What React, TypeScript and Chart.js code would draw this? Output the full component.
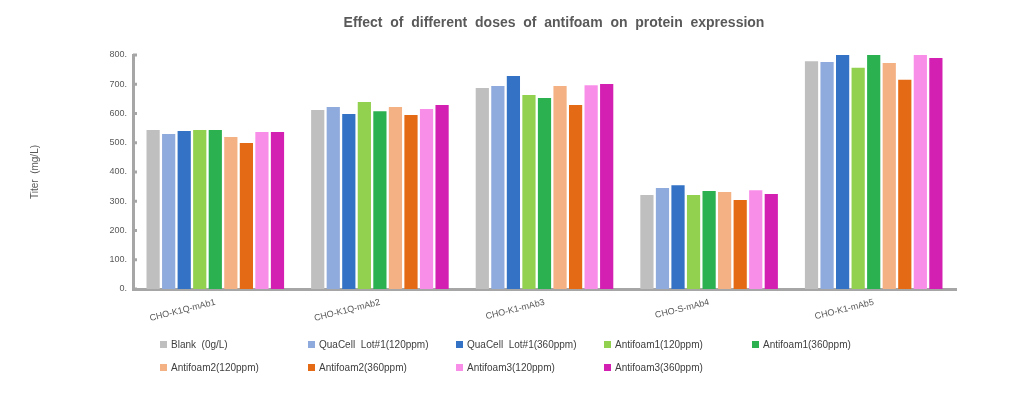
import React, { useEffect, useRef } from "react";
import { Chart, registerables } from "chart.js";

Chart.register(...registerables);

const categories = ["CHO-K1Q-mAb1", "CHO-K1Q-mAb2", "CHO-K1-mAb3", "CHO-S-mAb4", "CHO-K1-mAb5"];

const seriesNames = [
  "Blank  (0g/L)",
  "QuaCell  Lot#1(120ppm)",
  "QuaCell  Lot#1(360ppm)",
  "Antifoam1(120ppm)",
  "Antifoam1(360ppm)",
  "Antifoam2(120ppm)",
  "Antifoam2(360ppm)",
  "Antifoam3(120ppm)",
  "Antifoam3(360ppm)",
];

const seriesColors = [
  "#bfbfbf",
  "#8faadc",
  "#3372c4",
  "#92d050",
  "#2cb150",
  "#f4b183",
  "#e56a16",
  "#f98ee8",
  "#d31fb2",
];

const blank = [544, 612, 687, 321, 779];
const quacell120 = [530, 622, 694, 345, 776];
const quacell360 = [540, 598, 728, 355, 800];
const antifoam1_120 = [544, 639, 663, 321, 756];
const antifoam1_360 = [544, 608, 653, 335, 800];
const antifoam2_120 = [520, 622, 694, 332, 773];
const antifoam2_360 = [499, 595, 629, 304, 715];
const antifoam3_120 = [537, 615, 697, 338, 800];
const antifoam3_360 = [537, 629, 701, 325, 790];

const seriesValues = [
  blank,
  quacell120,
  quacell360,
  antifoam1_120,
  antifoam1_360,
  antifoam2_120,
  antifoam2_360,
  antifoam3_120,
  antifoam3_360,
];

const yTicks = [0, 100, 200, 300, 400, 500, 600, 700, 800];

const titleText = "Effect  of  different  doses  of  antifoam  on  protein  expression";
const yTitle = "Titer  (mg/L)";

const FONT = "'Liberation Sans', Arial, sans-serif";

const titlePlugin = {
  id: "customTitle",
  afterDraw(chart: any) {
    const ctx = chart.ctx;
    ctx.save();
    ctx.font = `bold 14px ${FONT}`;
    ctx.fillStyle = "#595959";
    ctx.textAlign = "center";
    ctx.textBaseline = "middle";
    ctx.fillText(titleText, 554, 23);
    ctx.restore();
  },
};

const tickMarkPlugin = {
  id: "yTickMarks",
  afterDraw(chart: any) {
    const ctx = chart.ctx;
    const y = chart.scales.y;
    ctx.save();
    ctx.fillStyle = "#a6a6a6";
    yTicks.forEach((v) => {
      const py = y.getPixelForValue(v);
      ctx.fillRect(chart.chartArea.left, py - 1.5, 4, 3);
    });
    ctx.restore();
  },
};

const legendCols = [160, 308, 456, 604, 752];
const legendRows = [344, 367];

export default function App() {
  const ref = useRef<HTMLCanvasElement | null>(null);

  useEffect(() => {
    if (!ref.current) return;
    const chart = new Chart(ref.current, {
      type: "bar",
      data: {
        labels: categories,
        datasets: seriesNames.map((name, i) => ({
          label: name,
          data: seriesValues[i],
          backgroundColor: seriesColors[i],
          borderWidth: 0,
          categoryPercentage: 0.85,
          barPercentage: 0.85,
        })),
      },
      options: {
        animation: false,
        responsive: true,
        maintainAspectRatio: false,
        layout: { padding: { top: 55, right: 62, bottom: 0, left: 0 } },
        plugins: {
          legend: { display: false },
          title: { display: false },
          tooltip: { enabled: false },
        },
        scales: {
          x: {
            grid: { display: false, drawTicks: false },
            border: { display: true, color: "#a6a6a6", width: 3 },
            ticks: {
              color: "#595959",
              font: { family: FONT, size: 9 },
              minRotation: 14,
              maxRotation: 14,
              padding: 8,
            },
            afterFit(scale: any) {
              scale.height = 105;
            },
          },
          y: {
            min: 0,
            max: 800,
            afterBuildTicks(scale: any) {
              scale.ticks = yTicks.map((v) => ({ value: v }));
            },
            grid: { display: false, drawTicks: false },
            border: { display: true, color: "#a6a6a6", width: 3 },
            ticks: {
              color: "#595959",
              font: { family: FONT, size: 9 },
              padding: 6,
              callback: (v: any) => `${v}.`,
            },
            title: {
              display: true,
              text: yTitle,
              color: "#595959",
              font: { family: FONT, size: 10 },
              padding: { top: 29, bottom: 0 },
            },
            afterFit(scale: any) {
              scale.width = 133;
            },
          },
        },
      },
      plugins: [titlePlugin, tickMarkPlugin],
    });
    return () => chart.destroy();
  }, []);

  return (
    <div style={{ position: "fixed", left: 0, top: 0, width: 1018, height: 394, background: "#fff" }}>
      <canvas ref={ref} />
      {seriesNames.map((name, i) => {
        const col = i % 5;
        const row = Math.floor(i / 5);
        return (
          <div
            key={name}
            style={{
              position: "absolute",
              left: legendCols[col],
              top: legendRows[row] - 7,
              height: 14,
              display: "flex",
              alignItems: "center",
              whiteSpace: "pre",
              font: `10px ${FONT}`,
              color: "#404040",
            }}
          >
            <span style={{ display: "inline-block", width: 7, height: 7, background: seriesColors[i], marginRight: 4 }} />
            <span>{name}</span>
          </div>
        );
      })}
    </div>
  );
}
